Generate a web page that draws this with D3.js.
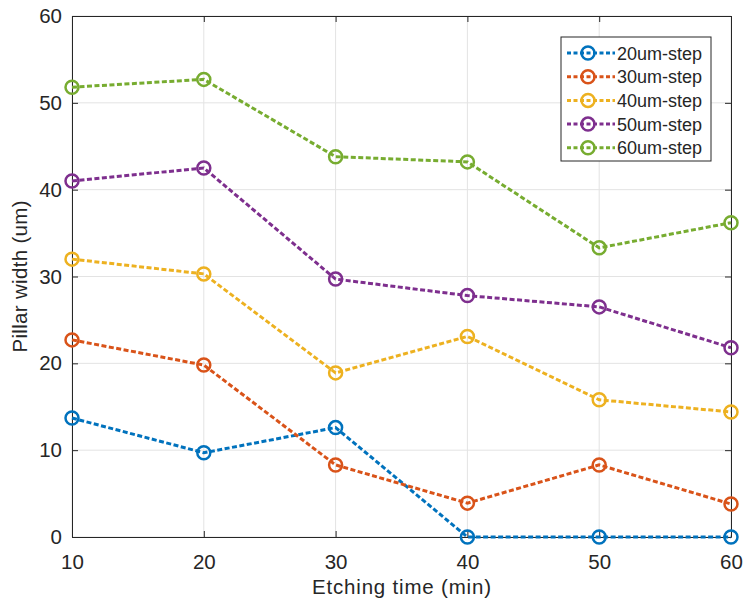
<!DOCTYPE html>
<html>
<head>
<meta charset="utf-8">
<script src="https://cdn.jsdelivr.net/npm/d3@7"></script>
<style>
  body { margin: 0; background: #fff; }
  text { font-family: "Liberation Sans", Arial, sans-serif; fill: #262626; }
</style>
</head>
<body>
<div id="chart"></div>
<script>
// Pillar width vs etching time, one line per step size
let etchTimes = [10, 20, 30, 40, 50, 60];
let seriesNames = ["20um-step", "30um-step", "40um-step", "50um-step", "60um-step"];
let step20 = [13.7, 9.7, 12.6, 0, 0, 0];
let step30 = [22.7, 19.8, 8.3, 3.9, 8.3, 3.8];
let step40 = [32.0, 30.3, 18.9, 23.1, 15.8, 14.4];
let step50 = [41.0, 42.5, 29.7, 27.8, 26.5, 21.8];
let step60 = [51.8, 52.7, 43.8, 43.2, 33.3, 36.2];
let yTicks = [0, 10, 20, 30, 40, 50, 60];

let colors = ["#0072BD", "#D95319", "#EDB120", "#7E2F8E", "#77AC30"];
let allSeries = [step20, step30, step40, step50, step60];

let margins = {top: 16, right: 13, left: 72, bottom: 68};
let width = 744 - margins.left - margins.right;
let height = 605 - margins.top - margins.bottom;

let svg = d3.select("#chart")
    .append("svg")
    .attr("width", 744)
    .attr("height", 605)
    .append("g")
    .attr("transform", "translate(" + margins.left + "," + margins.top + ")");

let x = d3.scaleLinear().domain([10, 60]).range([0, width]);
let y = d3.scaleLinear().domain([0, 60]).range([height, 0]);

// grid
svg.selectAll(".vgrid")
    .data(etchTimes)
    .enter()
    .append("line")
    .attr("x1", d => x(d)).attr("x2", d => x(d))
    .attr("y1", 0).attr("y2", height)
    .attr("stroke", "#e3e3e3").attr("stroke-width", 1);
svg.selectAll(".hgrid")
    .data(yTicks)
    .enter()
    .append("line")
    .attr("x1", 0).attr("x2", width)
    .attr("y1", d => y(d)).attr("y2", d => y(d))
    .attr("stroke", "#e3e3e3").attr("stroke-width", 1);

// axes (ticks inward, box on)
svg.append("g")
    .attr("transform", "translate(0," + height + ")")
    .call(d3.axisBottom(x).tickValues(etchTimes).tickSizeInner(-6).tickSizeOuter(0).tickPadding(17));
svg.append("g")
    .call(d3.axisLeft(y).tickValues(yTicks).tickSizeInner(-6).tickSizeOuter(0).tickPadding(10));
svg.append("g")
    .attr("transform", "translate(" + width + ",0)")
    .call(d3.axisRight(y).tickValues(yTicks).tickSizeInner(-6).tickSizeOuter(0).tickFormat(""));
svg.append("g")
    .call(d3.axisTop(x).tickValues(etchTimes).tickSizeInner(-6).tickSizeOuter(0).tickFormat(""));

svg.selectAll(".domain").attr("stroke", "#262626");
svg.selectAll(".tick line").attr("stroke", "#262626");
svg.selectAll(".tick text").style("font-size", "20.5px").attr("fill", "#262626");

// lines
let line = d3.line()
    .x((d, i) => x(etchTimes[i]))
    .y(d => y(d));

allSeries.forEach(function(vals, k) {
    svg.append("path")
        .datum(vals)
        .attr("d", line)
        .attr("fill", "none")
        .attr("stroke", colors[k])
        .attr("stroke-width", 3)
        .attr("stroke-dasharray", "5,2.5");
    svg.selectAll(".pt" + k)
        .data(vals)
        .enter()
        .append("circle")
        .attr("cx", (d, i) => x(etchTimes[i]))
        .attr("cy", d => y(d))
        .attr("r", 6.5)
        .attr("fill", "none")
        .attr("stroke", colors[k])
        .attr("stroke-width", 2.5);
});

// axis labels
svg.append("text")
    .attr("x", width / 2)
    .attr("y", height + 57)
    .attr("text-anchor", "middle")
    .attr("textLength", 179)
    .style("font-size", "20.5px")
    .text("Etching time (min)");
svg.append("text")
    .attr("transform", "translate(" + (-45) + "," + (height / 2) + ") rotate(-90)")
    .attr("text-anchor", "middle")
    .attr("textLength", 152)
    .style("font-size", "20.5px")
    .text("Pillar width (um)");

// legend
let legend = svg.append("g").attr("transform", "translate(" + (561 - margins.left) + "," + (37 - margins.top) + ")");
legend.append("rect")
    .attr("width", 150).attr("height", 124)
    .attr("fill", "#fff").attr("stroke", "#262626").attr("stroke-width", 1);
seriesNames.forEach(function(name, k) {
    let ly = 16 + k * 23.7;
    legend.append("line")
        .attr("x1", 6).attr("x2", 54).attr("y1", ly).attr("y2", ly)
        .attr("stroke", colors[k]).attr("stroke-width", 3)
        .attr("stroke-dasharray", "4,2.5");
    legend.append("circle")
        .attr("cx", 27).attr("cy", ly).attr("r", 6.5)
        .attr("fill", "none").attr("stroke", colors[k]).attr("stroke-width", 2.5);
    legend.append("text")
        .attr("x", 56).attr("y", ly + 6.5)
        .style("font-size", "18px")
        .text(name);
});
</script>
</body>
</html>
